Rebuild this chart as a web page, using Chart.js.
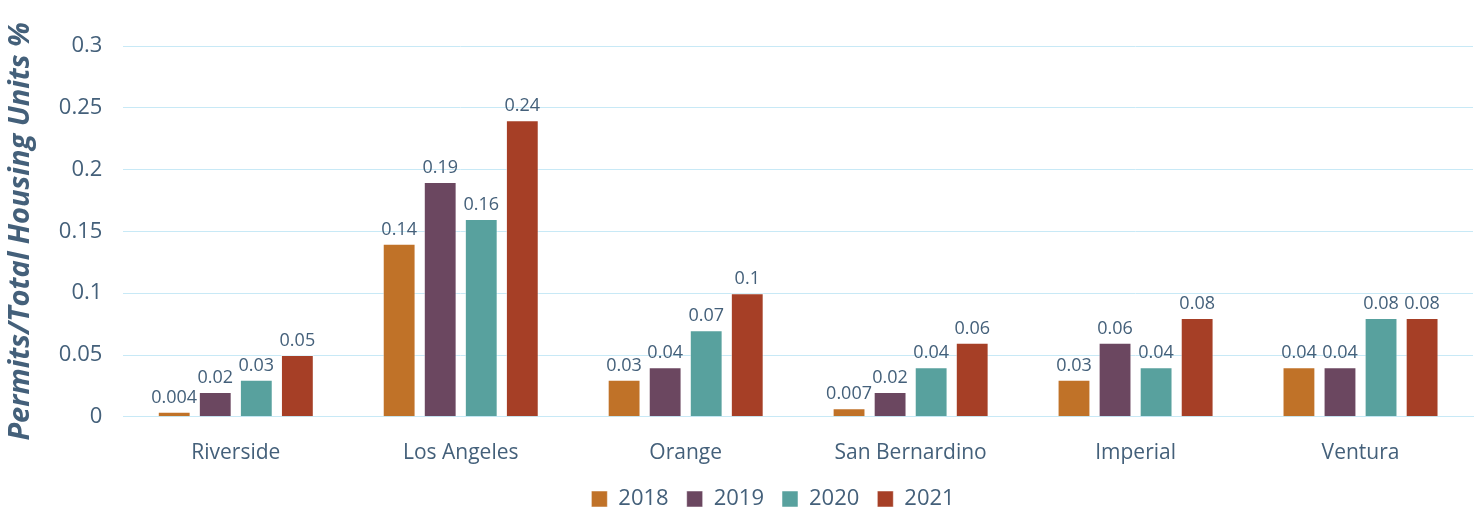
<!DOCTYPE html>
<html>
<head>
<meta charset="utf-8">
<script src="https://cdn.jsdelivr.net/npm/chart.js@4"></script>
<style>
  html, body { margin: 0; padding: 0; background: #fff; }
  #wrap { width: 1480px; height: 512px; }
</style>
</head>
<body>
<div id="wrap"><canvas id="permitChart" width="1480" height="512"></canvas></div>
<script>
const counties = ['Riverside', 'Los Angeles', 'Orange', 'San Bernardino', 'Imperial', 'Ventura'];
const years = ['2018', '2019', '2020', '2021'];
const v2018 = [0.004, 0.14, 0.03, 0.007, 0.03, 0.04];
const v2019 = [0.02, 0.19, 0.04, 0.02, 0.06, 0.04];
const v2020 = [0.03, 0.16, 0.07, 0.04, 0.04, 0.08];
const v2021 = [0.05, 0.24, 0.1, 0.06, 0.08, 0.08];
const barColors = ['#c07228', '#6b4760', '#58a19e', '#a63f26'];

const textColor = '#44607a';
const font = '"Open Sans", "Noto Sans", sans-serif';

// draws the value above each bar
const valueLabels = {
  id: 'valueLabels',
  afterDatasetsDraw(chart) {
    const ctx = chart.ctx;
    ctx.save();
    ctx.font = '18px ' + font;
    ctx.fillStyle = textColor;
    ctx.textAlign = 'center';
    ctx.textBaseline = 'bottom';
    chart.data.datasets.forEach((ds, i) => {
      chart.getDatasetMeta(i).data.forEach((bar, j) => {
        ctx.fillText(String(ds.data[j]), bar.x, bar.y - 5);
      });
    });
    ctx.restore();
  }
};

// nudge the legend a bit to the right, like the original
const legendShift = {
  id: 'legendShift',
  afterLayout(chart) {
    if (chart.legend) {
      chart.legend.left += 35;
      chart.legend.right += 35;
    }
  }
};

const allValues = [v2018, v2019, v2020, v2021];

new Chart(document.getElementById('permitChart'), {
  type: 'bar',
  data: {
    labels: counties,
    datasets: years.map((y, i) => ({
      label: y,
      data: allValues[i],
      backgroundColor: barColors[i],
      borderColor: 'rgba(255,255,255,0.5)',
      borderWidth: 1,
      barPercentage: 0.8,
      categoryPercentage: 0.73
    }))
  },
  options: {
    responsive: false,
    animation: false,
    layout: { padding: { top: 46, right: 7, left: 3, bottom: -8 } },
    plugins: {
      legend: {
        position: 'bottom',
        labels: {
          color: textColor,
          font: { size: 22, family: font },
          boxWidth: 16,
          boxHeight: 16,
          padding: 18
        }
      },
      tooltip: { enabled: false }
    },
    scales: {
      x: {
        grid: { display: false },
        border: { display: true, color: '#c8e9f6' },
        ticks: { color: textColor, font: { size: 21, family: font }, padding: 16 },
        afterFit: s => { s.height -= 12; }
      },
      y: {
        min: 0,
        max: 0.3,
        ticks: {
          stepSize: 0.05,
          color: textColor,
          font: { size: 22, family: font },
          padding: 21,
          callback: v => String(Math.round(v * 100) / 100)
        },
        grid: { color: '#c8e9f6', drawTicks: false },
        border: { display: false },
        title: {
          display: true,
          text: 'Permits/Total Housing Units %',
          color: textColor,
          font: { size: 29, family: font, weight: 'bold', style: 'italic' },
          padding: { top: 0, bottom: 0 }
        }
      }
    }
  },
  plugins: [valueLabels, legendShift]
});
</script>
</body>
</html>
